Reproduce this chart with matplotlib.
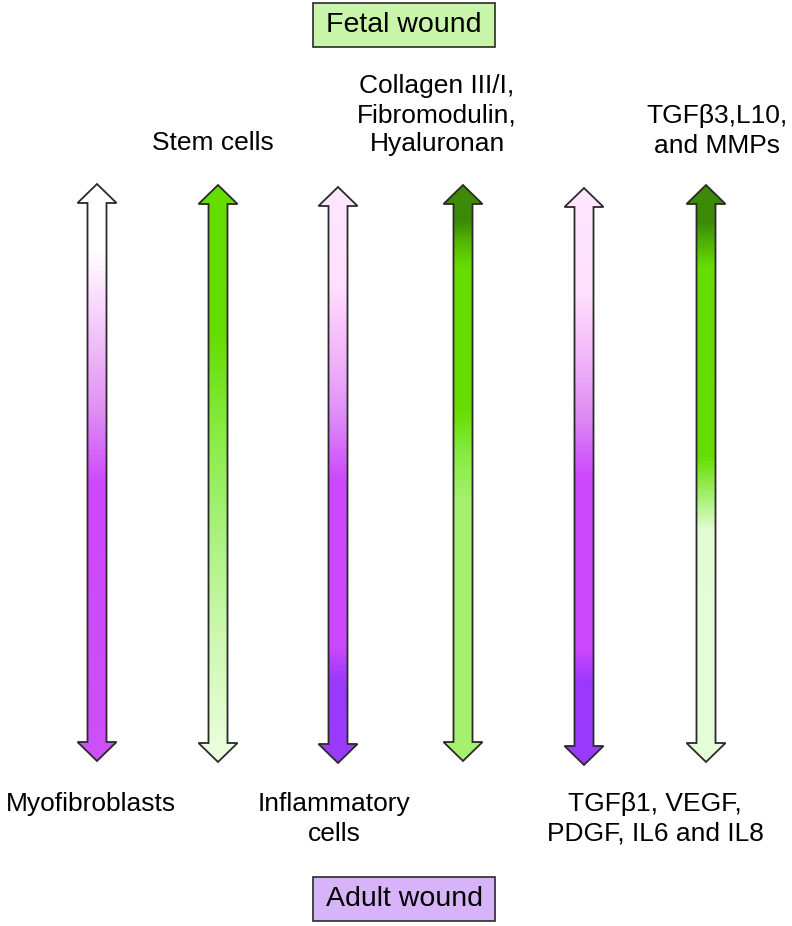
import numpy as np
import matplotlib.pyplot as plt
from matplotlib.path import Path
from matplotlib.patches import PathPatch, Rectangle
from matplotlib.colors import LinearSegmentedColormap

plt.rcParams['font.family'] = ['Liberation Sans', 'DejaVu Sans']

# arrows, left to right
arrow_x = [97, 218, 338, 463, 584, 706]
arrow_top = [184, 185, 187, 185, 188, 185]
arrow_bottom = [761, 762, 763, 761, 765, 762]

# colour stops along each arrow (0 = top tip, 1 = bottom tip)
arrow_stops = [
    [(0.0, '#ffffff'), (0.11, '#ffffff'), (0.21, '#f8d8fc'), (0.39, '#e090f4'), (0.52, '#cc48fc'), (1.0, '#cc50f8')],
    [(0.0, '#66dd00'), (0.26, '#66dd00'), (0.43, '#88ec44'), (0.60, '#a8f27c'), (0.78, '#ccf8b0'), (1.0, '#ecffe0')],
    [(0.0, '#ffe6ff'), (0.17, '#ffe0fe'), (0.22, '#fcccfc'), (0.33, '#eca8f8'), (0.39, '#e090f8'), (0.51, '#cc48fc'), (0.80, '#cc48fc'), (0.86, '#9a38fc'), (1.0, '#9a3cfc')],
    [(0.0, '#3c8a08'), (0.06, '#3c8a08'), (0.10, '#55bb00'), (0.14, '#66dd00'), (0.39, '#66dd00'), (0.47, '#88ec44'), (0.55, '#a6f06e'), (1.0, '#a6f06e')],
    [(0.0, '#ffe6ff'), (0.18, '#ffe0fe'), (0.30, '#f0b4f8'), (0.40, '#dd88f4'), (0.50, '#cc48fc'), (0.80, '#cc48fc'), (0.86, '#9a38fc'), (1.0, '#9a3cfc')],
    [(0.0, '#3c8a08'), (0.06, '#3c8a08'), (0.14, '#66dd00'), (0.47, '#66dd00'), (0.54, '#a6f06e'), (0.60, '#e4fcd6'), (1.0, '#e6fdda')],
]

# labels
top_labels = ['Stem cells', 'Collagen III/I,\nFibromodulin,\nHyaluronan', 'TGF\u03b23,L10,\nand MMPs']
top_label_x = [213, 437, 717]
top_label_y = [143, 115, 131]

bottom_labels = ['Myofibroblasts', 'Inflammatory\ncells', 'TGF\u03b21, VEGF,\nPDGF, IL6 and IL8']
bottom_label_x = [91, 334, 655]
bottom_label_y = [804, 819, 819]

box_labels = ['Fetal wound', 'Adult wound']
box_colors = ['#c9f5aa', '#d7b4f9']
box_y = [3, 877]

W, H = 792, 926
fig = plt.figure(figsize=(W / 100, H / 100), dpi=100)
ax = fig.add_axes([0, 0, 1, 1])

hw, sw, hl = 19.5, 9.5, 19
for x, t, b, stops in zip(arrow_x, arrow_top, arrow_bottom, arrow_stops):
    verts = [(x, t), (x + hw, t + hl), (x + sw, t + hl), (x + sw, b - hl), (x + hw, b - hl),
             (x, b), (x - hw, b - hl), (x - sw, b - hl), (x - sw, t + hl), (x - hw, t + hl), (x, t)]
    path = Path(verts, closed=True)
    cmap = LinearSegmentedColormap.from_list('g', stops)
    grad = cmap(np.linspace(0, 1, 400))[:, None, :]
    im = ax.imshow(grad, extent=(x - hw, x + hw, b, t), origin='upper', aspect='auto',
                   interpolation='bilinear', zorder=1)
    outline = PathPatch(path, facecolor='none', edgecolor='#2a2a2a', lw=1.3, zorder=2)
    ax.add_patch(outline)
    im.set_clip_path(outline)

for txt, x, y in zip(top_labels, top_label_x, top_label_y):
    ax.text(x, y, txt, ha='center', va='center', fontsize=19, linespacing=1.27)
for txt, x, y in zip(bottom_labels, bottom_label_x, bottom_label_y):
    ax.text(x, y, txt, ha='center', va='center', fontsize=19, linespacing=1.27)

for txt, col, y in zip(box_labels, box_colors, box_y):
    ax.add_patch(Rectangle((313, y), 182, 44, facecolor=col, edgecolor='#2a2a2a', lw=1.2, zorder=3))
    ax.text(404, y + 22, txt, ha='center', va='center', fontsize=20.5, zorder=4)

ax.set_xlim(0, W)
ax.set_ylim(H, 0)
ax.axis('off')
fig.savefig('out.png', dpi=100, facecolor='white')
